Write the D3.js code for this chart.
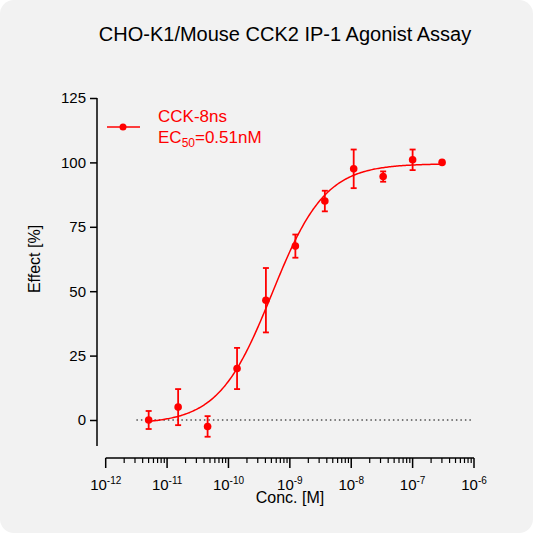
<!DOCTYPE html><html><head><script src="https://cdn.jsdelivr.net/npm/d3@7"></script>
<style>body{margin:0;background:#fff}text{font-family:Arial,"Liberation Sans",sans-serif}</style></head><body><svg id="c" width="533" height="533"></svg><script>
const logConc=[-11.3,-10.82,-10.34,-9.86,-9.39,-8.91,-8.43,-7.96,-7.48,-7.0,-6.52];
const effect=[0,5,-2.5,20,46.5,67.5,85,97.5,94.5,101,100];
const errs=[3.5,7,4,8,12.5,4.5,4,7.5,2,4,0];
const yTicks=[0,25,50,75,100,125];
const xTicks=[-12,-11,-10,-9,-8,-7,-6];
const fit={bottom:-1.5,top:99.5,logEC50:Math.log10(0.51e-9),hill:1};
const svg=d3.select("#c");
svg.append("rect").attr("width",533).attr("height",533).attr("rx",14).attr("fill","#f2f2f2");
const x=d3.scaleLinear().domain([-12,-6]).range([105.7,474]);
const y=d3.scaleLinear().domain([0,125]).range([420,98]);
const red="#ff0000";
svg.append("text").attr("x",285).attr("y",41).attr("text-anchor","middle").attr("font-size",20).text("CHO-K1/Mouse CCK2 IP-1 Agonist Assay");
const ya=svg.append("g").attr("transform","translate(97,0)").call(d3.axisLeft(y).tickValues(yTicks).tickSize(7).tickPadding(4));
ya.select(".domain").attr("d","M0,98V446").attr("stroke-width",1.5);
ya.selectAll(".tick line").attr("stroke-width",1.5);
ya.selectAll("text").attr("font-size",15).attr("fill","#000");
const xg=svg.append("g").attr("transform","translate(0,458)");
xg.append("line").attr("x1",x(-12)).attr("x2",x(-6)).attr("stroke","#000").attr("stroke-width",1.5);
const minor=[];xTicks.slice(0,-1).forEach(d=>{for(let k=2;k<=9;k++)minor.push(d+Math.log10(k));});
xg.selectAll(".mn").data(minor).join("line").attr("x1",d=>x(d)).attr("x2",d=>x(d)).attr("y1",0).attr("y2",5).attr("stroke","#000").attr("stroke-width",1.2);
xg.selectAll(".mj").data(xTicks).join("line").attr("x1",d=>x(d)).attr("x2",d=>x(d)).attr("y1",0).attr("y2",10).attr("stroke","#000").attr("stroke-width",1.5);
const xl=xg.selectAll(".lb").data(xTicks).join("text").attr("x",d=>x(d)).attr("y",32).attr("text-anchor","middle").attr("font-size",15);
xl.append("tspan").text("10");
xl.append("tspan").attr("dy",-6).attr("font-size",10).text(d=>d);
svg.append("text").attr("x",290).attr("y",503).attr("text-anchor","middle").attr("font-size",16).text("Conc. [M]");
svg.append("text").attr("transform","translate(40,259) rotate(-90)").attr("text-anchor","middle").attr("font-size",16).text("Effect  [%]");
svg.append("line").attr("x1",x(-11.5)).attr("x2",x(-6.05)).attr("y1",y(0)).attr("y2",y(0)).attr("stroke","#000").attr("stroke-dasharray","1.5,3");
const f=l=>fit.bottom+(fit.top-fit.bottom)/(1+Math.pow(10,(fit.logEC50-l)*fit.hill));
const cx=d3.range(logConc[0],logConc[logConc.length-1]+0.001,0.02);
svg.append("path").attr("d",d3.line().x(d=>x(d)).y(d=>y(f(d)))(cx)).attr("fill","none").attr("stroke",red).attr("stroke-width",1.5);
const g=svg.append("g").attr("stroke",red).attr("stroke-width",1.8);
logConc.forEach((l,i)=>{if(!errs[i])return;const X=x(l),a=y(effect[i]+errs[i]),b=y(effect[i]-errs[i]);
g.append("line").attr("x1",X).attr("x2",X).attr("y1",a).attr("y2",b);
g.append("line").attr("x1",X-3).attr("x2",X+3).attr("y1",a).attr("y2",a);
g.append("line").attr("x1",X-3).attr("x2",X+3).attr("y1",b).attr("y2",b);});
svg.selectAll(".pt").data(logConc).join("circle").attr("cx",d=>x(d)).attr("cy",(d,i)=>y(effect[i])).attr("r",3.8).attr("fill",red);
svg.append("line").attr("x1",107).attr("x2",140).attr("y1",127).attr("y2",127).attr("stroke",red).attr("stroke-width",1.5);
svg.append("circle").attr("cx",123).attr("cy",127).attr("r",3.5).attr("fill",red);
svg.append("text").attr("x",158).attr("y",122).attr("font-size",17).attr("fill",red).text("CCK-8ns");
const t2=svg.append("text").attr("x",158).attr("y",143).attr("font-size",17).attr("fill",red);
t2.append("tspan").text("EC");t2.append("tspan").attr("font-size",12).attr("dy",4).text("50");t2.append("tspan").attr("dy",-4).text("=0.51nM");
</script></body></html>
